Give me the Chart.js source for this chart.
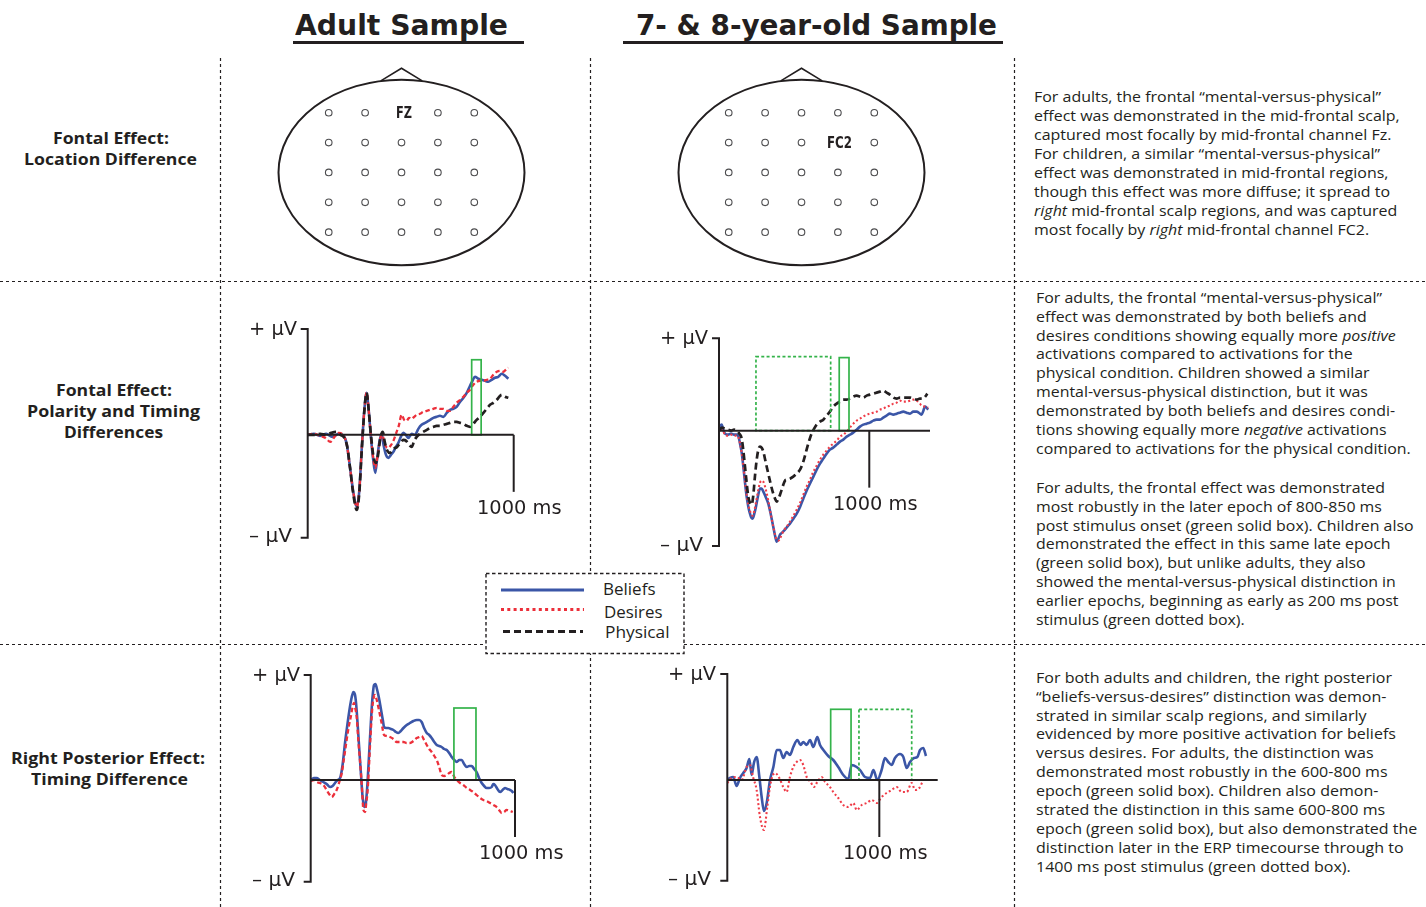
<!DOCTYPE html>
<html><head><meta charset="utf-8">
<script src="https://cdn.jsdelivr.net/npm/chart.js@4.4.1/dist/chart.umd.min.js"></script>
<style>
html,body{margin:0;padding:0;background:#fff;}
#root{position:relative;width:1426px;height:907px;overflow:hidden;background:#fff;}
.t{position:absolute;white-space:nowrap;transform-origin:0 50%;color:#231f20;}
canvas{position:absolute;}
svg{position:absolute;left:0;top:0;}
</style></head>
<body><div id="root"></div>
<script>
// ================= DATA =================
const sampleTitles = ['Adult Sample', '7- & 8-year-old Sample'];
const rowLabels = [
  ['Fontal Effect:', 'Location Difference'],
  ['Fontal Effect:', 'Polarity and Timing', 'Differences'],
  ['Right Posterior Effect:', 'Timing Difference']
];
const conditionNames = ['Beliefs', 'Desires', 'Physical'];
const yTickLabels = ['+ µV', '– µV'];
const xTickValue = 1000;
const xTickLabel = '1000 ms';

// electrode grid (columns left→right, rows front→back)
const electrodeCols = [-2, -1, 0, 1, 2];
const electrodeRows = [2, 1, 0, -1, -2];
const adultFocal = {col: 0, row: 2, label: 'FZ'};
const childFocal = {col: 1, row: 1, label: 'FC2'};

// ---- Adult, frontal (ms, µV) ----
const afBeliefsT = [0,30,60,90,120,150,175,190,205,222,238,250,262,275,286,296,306,318,328,338,350,359,368,380,392,404,416,428,440,452,464,476,489,505,521,537,553,570,594,610,626,642,659,675,691,707,723,740,756,772,788,800,812,828,845,861,877,893,909,925,942,958,974];
const afBeliefsV = [0,0.1,-0.1,0.1,-0.2,0.1,-0.1,-1.0,-3.2,-5.8,-7.2,-5.7,-1.5,2.5,4.2,2.5,0.0,-2.5,-3.8,-2.2,-0.5,0.1,-1.0,-2.0,-2.3,-2.0,-1.7,-1.2,-0.8,-0.2,0.2,0.0,-0.3,0.1,0.0,0.6,1.0,1.2,1.5,1.7,1.8,1.9,1.8,2.2,2.5,2.6,2.8,3.3,3.7,4.2,4.9,5.4,5.8,5.6,5.5,5.4,5.3,5.5,5.7,5.8,6.1,5.9,5.6];
const afDesiresT = [0,30,60,85,110,130,150,175,190,205,222,238,250,262,275,286,296,306,318,328,340,352,362,375,390,405,418,430,442,456,468,480,492,505,517,529,545,561,578,594,610,626,642,659,675,691,707,723,740,756,772,788,804,820,837,853,869,885,901,918,934,950,962,974];
const afDesiresV = [0,0.1,-0.1,-0.3,-0.7,-0.2,0.2,-0.1,-1.0,-3.2,-5.8,-7.2,-5.7,-1.5,2.5,4.2,2.5,0.0,-2.3,-3.3,-2.0,-0.4,0.0,-1.0,-1.3,-1.0,-0.5,0.2,0.9,2.0,1.5,1.4,1.7,1.6,1.8,2.0,2.1,2.3,2.4,2.5,2.6,2.7,2.6,2.6,2.4,2.4,2.8,3.2,3.5,3.8,4.2,4.5,5.0,5.3,5.4,5.4,5.5,5.6,6.0,6.3,6.4,6.3,6.5,6.7];
const afPhysicalT = [0,30,60,90,115,140,160,178,192,205,222,238,250,262,275,286,296,306,318,330,340,352,364,375,387,400,416,434,450,464,478,492,505,517,529,545,561,578,594,610,626,642,659,675,691,707,723,740,756,772,788,804,820,837,853,869,885,901,918,930,942,958,974];
const afPhysicalV = [0,0.0,0.1,0.0,0.2,0.3,0.0,-0.3,-1.2,-3.2,-6.0,-7.5,-5.9,-1.7,2.4,4.2,2.5,0.2,-2.0,-2.8,-2.2,-0.4,0.3,-0.8,-1.6,-1.8,-1.4,-1.2,-0.8,-0.5,-0.6,-1.0,-1.2,-0.6,-0.2,0.1,0.3,0.5,0.7,0.8,0.9,0.9,1.0,1.1,1.2,1.3,1.3,1.2,1.1,0.9,0.8,1.1,1.5,1.8,2.2,2.6,3.0,3.2,3.5,3.8,4.0,3.8,3.7];
const afSolidEpochs = [[796, 842, 7.5]];
const afDottedEpochs = [];

// ---- Child, frontal ----
const cfBeliefsT = [0,10,18,28,40,60,80,100,118,130,140,151,162,173,184,195,206,215,224,235,246,260,273,284,295,310,328,345,361,373,384,395,406,420,439,455,472,495,517,540,561,583,605,628,650,672,694,716,738,760,783,805,827,849,871,893,916,938,960,982,1004,1027,1049,1071,1093,1115,1137,1160,1182,1204,1226,1248,1271,1293,1315,1337,1348,1360,1370,1381,1392];
const cfBeliefsV = [0,0.5,0.6,0.1,-0.3,-0.4,-0.3,-0.4,-0.4,-0.6,-1.3,-2.2,-3.6,-5.2,-6.6,-7.6,-8.3,-8.7,-8.8,-8.3,-7.6,-6.5,-5.8,-5.8,-6.1,-6.6,-7.3,-8.4,-9.6,-10.5,-11.1,-10.8,-10.4,-10.2,-9.9,-9.6,-9.3,-8.8,-8.3,-7.6,-6.8,-6.0,-5.3,-4.6,-3.9,-3.3,-2.8,-2.3,-1.9,-1.7,-1.4,-1.1,-0.9,-0.6,-0.4,-0.2,0.1,0.4,0.6,0.7,0.8,1.0,1.1,1.1,1.3,1.5,1.7,1.6,1.7,1.8,1.9,1.8,1.7,1.9,1.9,1.7,1.6,2.0,2.4,2.3,2.1];
const cfDesiresT = [0,10,20,40,60,80,100,118,130,140,151,162,173,184,195,206,215,224,235,246,260,273,284,295,310,328,345,361,373,384,395,406,420,439,455,472,495,517,540,561,583,605,628,650,672,694,716,738,760,783,805,827,849,871,894,916,938,960,982,1004,1027,1049,1071,1093,1115,1137,1160,1182,1204,1226,1248,1271,1293,1315,1337,1348,1370,1392];
const cfDesiresV = [0,0.3,0.2,-0.4,-0.5,-0.4,-0.5,-0.5,-0.7,-1.3,-2.2,-3.5,-5.0,-6.4,-7.4,-8.0,-8.4,-8.5,-8.0,-7.2,-6.0,-5.2,-5.0,-5.1,-5.8,-7.0,-8.4,-9.6,-10.4,-10.9,-11.0,-10.8,-10.3,-9.8,-9.5,-9.1,-8.5,-7.9,-7.2,-6.4,-5.6,-4.9,-4.1,-3.5,-2.9,-2.4,-2.0,-1.6,-1.3,-1.0,-0.6,-0.4,-0.1,0.3,0.7,1.0,1.2,1.4,1.6,1.7,1.8,1.9,2.1,2.2,2.4,2.5,2.7,2.8,3.0,2.9,2.9,3.0,3.1,3.0,2.7,2.5,2.4,2.3];
const cfPhysicalT = [0,20,40,60,80,100,118,135,151,162,173,184,195,206,217,228,239,250,262,273,284,295,310,328,345,361,373,384,395,406,417,428,439,450,472,494,517,539,561,583,600,616,633,650,672,694,716,738,760,783,805,827,849,871,893,916,938,960,982,1004,1027,1049,1071,1093,1115,1137,1160,1182,1204,1226,1248,1271,1293,1315,1337,1359,1372,1386];
const cfPhysicalV = [0,0.3,0.2,0.1,0.0,0.1,0.0,-0.3,-0.8,-2.0,-3.6,-5.2,-6.6,-7.2,-7.4,-6.5,-4.6,-3.0,-1.9,-1.6,-1.7,-2.1,-3.1,-4.3,-5.4,-6.3,-6.8,-7.1,-6.8,-6.4,-5.9,-5.4,-5.0,-4.9,-4.8,-4.6,-4.3,-3.9,-3.1,-1.9,-1.0,-0.3,0.2,0.6,0.9,1.1,1.5,1.9,2.4,2.7,2.9,3.1,3.1,3.2,3.4,3.5,3.4,3.3,3.5,3.6,3.7,3.8,3.9,4.0,3.8,3.6,3.3,3.2,3.3,3.3,3.3,3.3,3.2,3.1,3.2,3.2,3.4,3.7];
const cfSolidEpochs = [[800, 865, 7.3]];
const cfDottedEpochs = [[246, 743, 7.4]];

// ---- Adult, right posterior ----
const apBeliefsT = [0,15,29,45,62,78,95,107,119,132,144,156,168,180,192,201,209,216,222,230,238,246,254,263,270,278,287,293,299,305,310,317,323,330,336,342,347,353,359,370,380,393,405,417,429,441,454,470,486,503,519,531,543,555,568,580,592,605,617,629,641,653,666,678,690,703,715,727,739,751,764,776,788,800,812,824,837,849,861,873,886,894,902,914,927,939,951,963,976,984,992];
const apBeliefsV = [0,0.2,0.2,0.0,-0.2,-0.4,-0.7,-0.6,-0.3,0.0,0.2,1.5,3.7,5.6,7.3,8.3,8.8,8.6,7.7,5.5,3.0,0.6,-1.7,-2.7,-2.3,-0.3,3.0,5.2,7.3,8.8,9.5,9.6,9.2,8.6,8.0,7.3,6.7,6.0,5.3,5.2,5.2,5.1,5.0,4.8,4.7,4.9,5.2,5.5,5.7,5.9,6.0,6.0,5.8,5.2,4.7,4.5,4.2,3.8,3.5,3.4,3.3,3.1,3.0,2.7,2.3,2.0,1.8,2.0,2.0,1.6,1.3,1.4,1.4,1.1,0.8,0.2,-0.3,-0.6,-0.8,-0.8,-0.7,-0.4,-0.5,-0.9,-1.2,-1.0,-0.8,-0.9,-1.0,-1.1,-1.3];
const apDesiresT = [0,15,29,45,62,78,90,103,115,127,140,152,164,176,186,196,205,212,218,225,233,241,250,258,266,272,279,285,290,296,302,308,315,322,331,339,347,353,359,372,388,405,421,437,454,470,486,503,519,531,543,555,568,580,592,605,617,629,641,653,666,678,690,703,715,731,747,764,780,796,812,829,845,861,878,894,910,922,935,947,959,975,989];
const apDesiresV = [-0.1,0.0,-0.2,-0.3,-0.5,-1.0,-1.4,-1.7,-1.4,-1.0,-0.2,0.7,2.3,4.0,5.3,6.3,7.3,7.7,7.2,6.3,4.0,2.0,-0.5,-3.0,-3.2,-2.3,-1.0,1.2,3.3,5.5,7.3,8.2,8.5,8.1,7.3,6.5,5.7,5.0,4.5,4.4,4.3,4.1,3.8,3.8,3.8,3.7,3.7,3.9,4.2,4.3,4.4,4.0,3.5,3.1,2.8,2.4,2.0,1.3,0.5,0.4,0.5,0.7,0.8,0.3,0.0,-0.3,-0.5,-0.8,-1.0,-1.2,-1.5,-1.8,-2.0,-2.1,-2.3,-2.5,-2.7,-3.0,-3.3,-3.2,-3.0,-3.1,-3.2];
const apSolidEpochs = [[701, 809, 7.2]];
const apDottedEpochs = [];

// ---- Child, right posterior ----
const cpBeliefsT = [0,18,39,61,83,105,127,145,160,175,193,211,226,241,259,281,303,325,346,368,390,412,434,461,482,500,522,544,566,592,610,632,664,697,730,763,796,818,851,873,906,939,961,987,1015,1037,1059,1081,1103,1136,1158,1180,1202,1228,1250,1268,1289,1307];
const cpBeliefsV = [0,0.2,0.3,-0.6,0.2,0.7,1.2,2.1,0.5,1.7,2.3,0.3,-1.7,-3.1,-2.3,0,1.3,3.0,3.0,2.2,2.8,2.5,3.3,4.0,3.5,3.8,3.5,4.0,3.3,4.3,3.5,3.0,2.4,2.0,1.3,0.5,0.1,1.5,1.3,1.0,0.3,0.2,1.0,0,1.0,2.2,1.8,1.5,2.2,2.6,2.3,1.2,1.8,2.2,2.3,3.0,3.2,2.4];
const cpDesiresT = [0,29,61,94,127,149,171,193,215,241,263,285,314,342,368,390,412,434,456,478,500,522,548,570,592,621,643,675,697,730,763,796,829,851,884,917,950,982,1015,1048,1081,1114,1147,1180,1213,1235,1263,1289];
const cpDesiresV = [-0.3,0.2,0.3,0,1.3,1.5,0.2,-1.0,-3.7,-5.0,-2.7,-0.3,0.7,0.2,-0.7,-1.2,0.3,1.3,1.8,2.0,1.5,0.3,-0.2,-0.7,-0.2,0.3,-0.2,-0.7,-1.2,-1.8,-2.5,-2.7,-2.3,-3.0,-2.5,-2.3,-2.0,-2.3,-1.7,-1.3,-1.0,-0.7,-1.2,-1.2,-0.3,-1.0,-0.8,0];
const cpSolidEpochs = [[680, 814, 7.07]];
const cpDottedEpochs = [[866, 1213, 7.07]];

// ---- Text column ----
const note1 = [
 'For adults, the frontal “mental-versus-physical”',
 'effect was demonstrated in the mid-frontal scalp,',
 'captured most focally by mid-frontal channel Fz.',
 'For children, a similar “mental-versus-physical”',
 'effect was demonstrated in mid-frontal regions,',
 'though this effect was more diffuse; it spread to',
 '<i>right</i> mid-frontal scalp regions, and was captured',
 'most focally by <i>right</i> mid-frontal channel FC2.'];
const note2 = [
 'For adults, the frontal “mental-versus-physical”',
 'effect was demonstrated by both beliefs and',
 'desires conditions showing equally more <i>positive</i>',
 'activations compared to activations for the',
 'physical condition. Children showed a similar',
 'mental-versus-physical distinction, but it was',
 'demonstrated by both beliefs and desires condi-',
 'tions showing equally more <i>negative</i> activations',
 'compared to activations for the physical condition.'];
const note3 = [
 'For adults, the frontal effect was demonstrated',
 'most robustly in the later epoch of 800-850 ms',
 'post stimulus onset (green solid box). Children also',
 'demonstrated the effect in this same late epoch',
 '(green solid box), but unlike adults, they also',
 'showed the mental-versus-physical distinction in',
 'earlier epochs, beginning as early as 200 ms post',
 'stimulus (green dotted box).'];
const note4 = [
 'For both adults and children, the right posterior',
 '“beliefs-versus-desires” distinction was demon-',
 'strated in similar scalp regions, and similarly',
 'evidenced by more positive activation for beliefs',
 'versus desires. For adults, the distinction was',
 'demonstrated most robustly in the 600-800 ms',
 'epoch (green solid box). Children also demon-',
 'strated the distinction in this same 600-800 ms',
 'epoch (green solid box), but also demonstrated the',
 'distinction later in the ERP timecourse through to',
 '1400 ms post stimulus (green dotted box).'];

// ================= STYLE / LAYOUT =================
const INK = '#231f20';
const GREEN = '#34b34a';
const root = document.getElementById('root');
const SANS = "'Open Sans','Noto Sans',sans-serif";
const AX = "'DejaVu Sans',sans-serif";
const COND = "'Liberation Sans Narrow','DejaVu Sans Condensed','Open Sans',sans-serif";

function txt(html, o) {
  const d = document.createElement('div');
  d.className = 't';
  d.innerHTML = html;
  const size = o.size || 15;
  d.style.fontFamily = o.family || SANS;
  d.style.fontSize = size + 'px';
  d.style.fontWeight = o.weight || 400;
  d.style.lineHeight = (size * 1.3) + 'px';
  root.appendChild(d);
  const r = d.getBoundingClientRect();
  const s = (o.scale != null) ? o.scale : (o.w ? o.w / r.width : 1);
  d.style.transform = 'scaleX(' + s + ')';
  let left = o.x;
  if (o.align === 'center') left = o.x - r.width * s / 2;
  d.style.left = left + 'px';
  d.style.top = (o.y - r.height / 2) + 'px';
  return {scale: s};
}
function para(lines, x, y0, step, w0, size) {
  let s = null;
  lines.forEach((ln, i) => {
    const r = txt(ln, {x: x, y: y0 + i * step, size: size, w: i === 0 ? w0 : null, scale: s});
    if (i === 0) s = r.scale;
  });
}

// separators + legend frame
const NS = 'http://www.w3.org/2000/svg';
const svg = document.createElementNS(NS, 'svg');
svg.setAttribute('width', 1426); svg.setAttribute('height', 907);
root.appendChild(svg);
function sv(tag, attrs) { const e = document.createElementNS(NS, tag); for (const k in attrs) e.setAttribute(k, attrs[k]); svg.appendChild(e); return e; }
const sep = {stroke: INK, 'stroke-width': 1.2, 'stroke-dasharray': '3 3', fill: 'none'};
[220.5, 590.5, 1014.5].forEach(x => sv('line', Object.assign({x1: x, y1: 58, x2: x, y2: 907}, sep)));
[281.5, 644.5].forEach(y => sv('line', Object.assign({x1: 0, y1: y, x2: 1426, y2: y}, sep)));
sv('rect', {x: 486, y: 573.5, width: 198, height: 80, fill: '#fff', stroke: INK, 'stroke-width': 1.4, 'stroke-dasharray': '3.5 2.5'});
sv('line', {x1: 501, y1: 590, x2: 584, y2: 590, stroke: '#3b56a7', 'stroke-width': 3});
sv('line', {x1: 501, y1: 609.5, x2: 584, y2: 609.5, stroke: '#ec2f3a', 'stroke-width': 3, 'stroke-dasharray': '3 3.3'});
sv('line', {x1: 503, y1: 631.5, x2: 583, y2: 631.5, stroke: INK, 'stroke-width': 3, 'stroke-dasharray': '7 4'});
// header underlines
sv('rect', {x: 293, y: 41, width: 231, height: 3, fill: INK});
sv('rect', {x: 623, y: 41, width: 380, height: 3, fill: INK});

// headers
txt(sampleTitles[0], {x: 295, y: 25.5, size: 29, weight: 700, family: COND, w: 213});
txt(sampleTitles[1], {x: 636, y: 25.5, size: 29, weight: 700, family: COND, w: 361});

// row labels
const rowLabelLayout = [
  [[111, 138, 116], [110.5, 159, 173]],
  [[114, 390, 116], [113.5, 411, 173], [113.5, 432, 99]],
  [[108, 758, 194], [109.5, 779, 157]]
];
rowLabels.forEach((lines, r) => lines.forEach((ln, i) => {
  const L = rowLabelLayout[r][i];
  txt(ln, {x: L[0], y: L[1], w: L[2], size: 15.5, weight: 700, align: 'center'});
}));

// legend labels
txt(conditionNames[0], {x: 602.5, y: 589, size: 16.5, w: 52.5});
txt(conditionNames[1], {x: 604, y: 611.5, size: 16.5, w: 58.5});
txt(conditionNames[2], {x: 605, y: 632, size: 16.5, w: 64.5});

// text column
para(note1, 1034, 97.5, 18.9, 347, 14.2);
para(note2, 1036, 298, 18.9, 346, 14.2);
para(note3, 1036, 488, 18.9, 349, 14.2);
para(note4, 1036, 678, 18.9, 356, 14.2);

// ================= CHARTS =================
Chart.defaults.animation = false;

function makeCanvas(left, top, w, h) {
  const c = document.createElement('canvas');
  c.width = w; c.height = h;
  c.style.left = left + 'px'; c.style.top = top + 'px';
  c.style.width = w + 'px'; c.style.height = h + 'px';
  root.appendChild(c);
  return c;
}
const pts = (T, V) => T.map((t, i) => ({x: t, y: V[i]}));

const lineStyle = {
  Beliefs: {borderColor: '#3b56a7', borderWidth: 2.6, borderDash: []},
  DesiresAdult: {borderColor: '#ec2f3a', borderWidth: 2.3, borderDash: [4.5, 2.8]},
  DesiresChild: {borderColor: '#ef3c48', borderWidth: 2.1, borderDash: [2, 2.4]},
  Physical: {borderColor: INK, borderWidth: 2.7, borderDash: [7, 4]}
};

const erpFrame = {
  id: 'erpFrame',
  afterDatasetsDraw(chart, args, o) {
    const {ctx, scales: {x, y}} = chart;
    const X0 = x.getPixelForValue(0), XE = x.getPixelForValue(x.max);
    const YT = y.getPixelForValue(y.max), YB = y.getPixelForValue(y.min), Y0 = y.getPixelForValue(0);
    ctx.save();
    ctx.strokeStyle = GREEN; ctx.lineWidth = 1.7;
    const box = (e) => {
      const l = x.getPixelForValue(e[0]), r = x.getPixelForValue(e[1]), t = y.getPixelForValue(e[2]);
      ctx.strokeRect(l, t, r - l, Y0 - t);
    };
    ctx.setLineDash([]); o.solid.forEach(box);
    ctx.setLineDash([3, 2.3]); o.dotted.forEach(box);
    ctx.setLineDash([]);
    ctx.strokeStyle = INK; ctx.lineWidth = 2;
    ctx.beginPath(); ctx.moveTo(X0 - 7, YT); ctx.lineTo(X0, YT); ctx.lineTo(X0, YB); ctx.lineTo(X0 - 7, YB); ctx.stroke();
    ctx.beginPath(); ctx.moveTo(X0, Y0); ctx.lineTo(XE, Y0); ctx.stroke();
    const XT = x.getPixelForValue(o.tick);
    ctx.beginPath(); ctx.moveTo(XT, Y0); ctx.lineTo(XT, Y0 + o.tickLen); ctx.stroke();
    ctx.restore();
  }
};

function erpChart(cfg) {
  const c = makeCanvas(cfg.canvas[0], cfg.canvas[1], cfg.canvas[2], cfg.canvas[3]);
  const p = cfg.plot; // target plot rectangle [L, T, R, B] in page px
  const padding = {left: p[0] - cfg.canvas[0], top: p[1] - cfg.canvas[1],
    right: cfg.canvas[0] + cfg.canvas[2] - p[2], bottom: cfg.canvas[1] + cfg.canvas[3] - p[3]};
  const datasets = cfg.series.map(s => Object.assign({
    label: s.name, data: pts(s.t, s.v), pointRadius: 0, fill: false,
    cubicInterpolationMode: 'monotone', borderCapStyle: 'butt', borderJoinStyle: 'round'
  }, lineStyle[s.style]));
  const chart = new Chart(c, {
    type: 'line',
    data: {datasets},
    options: {
      responsive: false, animation: false, events: [],
      parsing: true,
      layout: {padding},
      scales: {
        x: {type: 'linear', min: 0, max: cfg.xMax, display: false},
        y: {type: 'linear', min: cfg.yMin, max: cfg.yMax, display: false}
      },
      plugins: {legend: {display: false}, tooltip: {enabled: false},
        erpFrame: {solid: cfg.solid, dotted: cfg.dotted, tick: xTickValue, tickLen: 57}}
    },
    plugins: [erpFrame]
  });
  const {x, y} = chart.scales;
  const ox = cfg.canvas[0], oy = cfg.canvas[1];
  const X0 = ox + x.getPixelForValue(0), XT = ox + x.getPixelForValue(xTickValue);
  const YT = oy + y.getPixelForValue(y.max), YB = oy + y.getPixelForValue(y.min), Y0 = oy + y.getPixelForValue(0);
  txt(yTickLabels[0], {x: X0 - 59, y: YT - 0.5, size: 19, family: AX, w: 48});
  txt(yTickLabels[1], {x: X0 - 59, y: YB - 2, size: 19, family: AX, w: 43});
  txt(xTickLabel, {x: XT + 6, y: Y0 + 57 + 15.5, size: 19, family: AX, w: 84.5, align: 'center'});
  return chart;
}

erpChart({canvas: [230, 300, 340, 260], plot: [307.7, 329, 513.7, 537.7], xMax: 1000, yMin: -10.27, yMax: 10.57,
  solid: afSolidEpochs, dotted: afDottedEpochs,
  series: [
    {name: conditionNames[2], t: afPhysicalT, v: afPhysicalV, style: 'Physical'},
    {name: conditionNames[1], t: afDesiresT, v: afDesiresV, style: 'DesiresAdult'},
    {name: conditionNames[0], t: afBeliefsT, v: afBeliefsV, style: 'Beliefs'}]});

erpChart({canvas: [640, 310, 330, 260], plot: [719, 338.3, 930, 546], xMax: 1404, yMin: -11.53, yMax: 9.23,
  solid: cfSolidEpochs, dotted: cfDottedEpochs,
  series: [
    {name: conditionNames[2], t: cfPhysicalT, v: cfPhysicalV, style: 'Physical'},
    {name: conditionNames[1], t: cfDesiresT, v: cfDesiresV, style: 'DesiresChild'},
    {name: conditionNames[0], t: cfBeliefsT, v: cfBeliefsV, style: 'Beliefs'}]});

erpChart({canvas: [230, 650, 360, 257], plot: [310.7, 675, 515, 881.7], xMax: 1000, yMin: -10.17, yMax: 10.5,
  solid: apSolidEpochs, dotted: apDottedEpochs,
  series: [
    {name: conditionNames[1], t: apDesiresT, v: apDesiresV, style: 'DesiresAdult'},
    {name: conditionNames[0], t: apBeliefsT, v: apBeliefsV, style: 'Beliefs'}]});

erpChart({canvas: [640, 652, 330, 255], plot: [727.3, 674, 937.7, 880.7], xMax: 1384, yMin: -10.07, yMax: 10.6,
  solid: cpSolidEpochs, dotted: cpDottedEpochs,
  series: [
    {name: conditionNames[1], t: cpDesiresT, v: cpDesiresV, style: 'DesiresChild'},
    {name: conditionNames[0], t: cpBeliefsT, v: cpBeliefsV, style: 'Beliefs'}]});

// ---- head maps ----
const headOutline = {
  id: 'headOutline',
  beforeDatasetsDraw(chart, args, o) {
    const {ctx, scales: {x, y}} = chart;
    const cx = x.getPixelForValue(0), cy = y.getPixelForValue(0);
    const rx = x.getPixelForValue(o.rx) - cx, ry = cy - y.getPixelForValue(o.ry);
    ctx.save();
    ctx.strokeStyle = INK; ctx.lineWidth = 1.6;
    ctx.beginPath();
    ctx.moveTo(x.getPixelForValue(-o.noseHalf), y.getPixelForValue(o.noseBase));
    ctx.lineTo(cx, y.getPixelForValue(o.noseTip));
    ctx.lineTo(x.getPixelForValue(o.noseHalf), y.getPixelForValue(o.noseBase));
    ctx.stroke();
    ctx.lineWidth = 2;
    ctx.beginPath(); ctx.ellipse(cx, cy, rx, ry, 0, 0, Math.PI * 2); ctx.stroke();
    ctx.restore();
  }
};
function headChart(left, top, focal) {
  const c = makeCanvas(left, top, 279, 227);
  const data = [];
  electrodeRows.forEach(r => electrodeCols.forEach(col => {
    if (!(col === focal.col && r === focal.row)) data.push({x: col, y: r});
  }));
  const chart = new Chart(c, {
    type: 'scatter',
    data: {datasets: [{label: 'electrodes', data, pointRadius: 3.3, pointBackgroundColor: '#fff',
      pointBorderColor: '#4d4d4f', pointBorderWidth: 1.1}]},
    options: {
      responsive: false, animation: false, events: [],
      layout: {padding: {left: 8.5, right: 8.5, top: 7, bottom: 4}},
      scales: {x: {type: 'linear', min: -3.6, max: 3.6, display: false},
               y: {type: 'linear', min: -3.6, max: 3.6, display: false}},
      plugins: {legend: {display: false}, tooltip: {enabled: false},
        headOutline: {rx: 3.38, ry: 3.11, noseTip: 3.49, noseBase: 3.07, noseHalf: 0.57}}
    },
    plugins: [headOutline]
  });
  const {x, y} = chart.scales;
  txt(focal.label, {x: left + x.getPixelForValue(focal.col) + 2, y: top + y.getPixelForValue(focal.row) + 1,
    size: 15, weight: 700, family: COND, w: focal.label.length === 2 ? 16 : 25, align: 'center'});
}
headChart(262, 58, adultFocal);
headChart(662, 58, childFocal);
</script>
</body></html>
